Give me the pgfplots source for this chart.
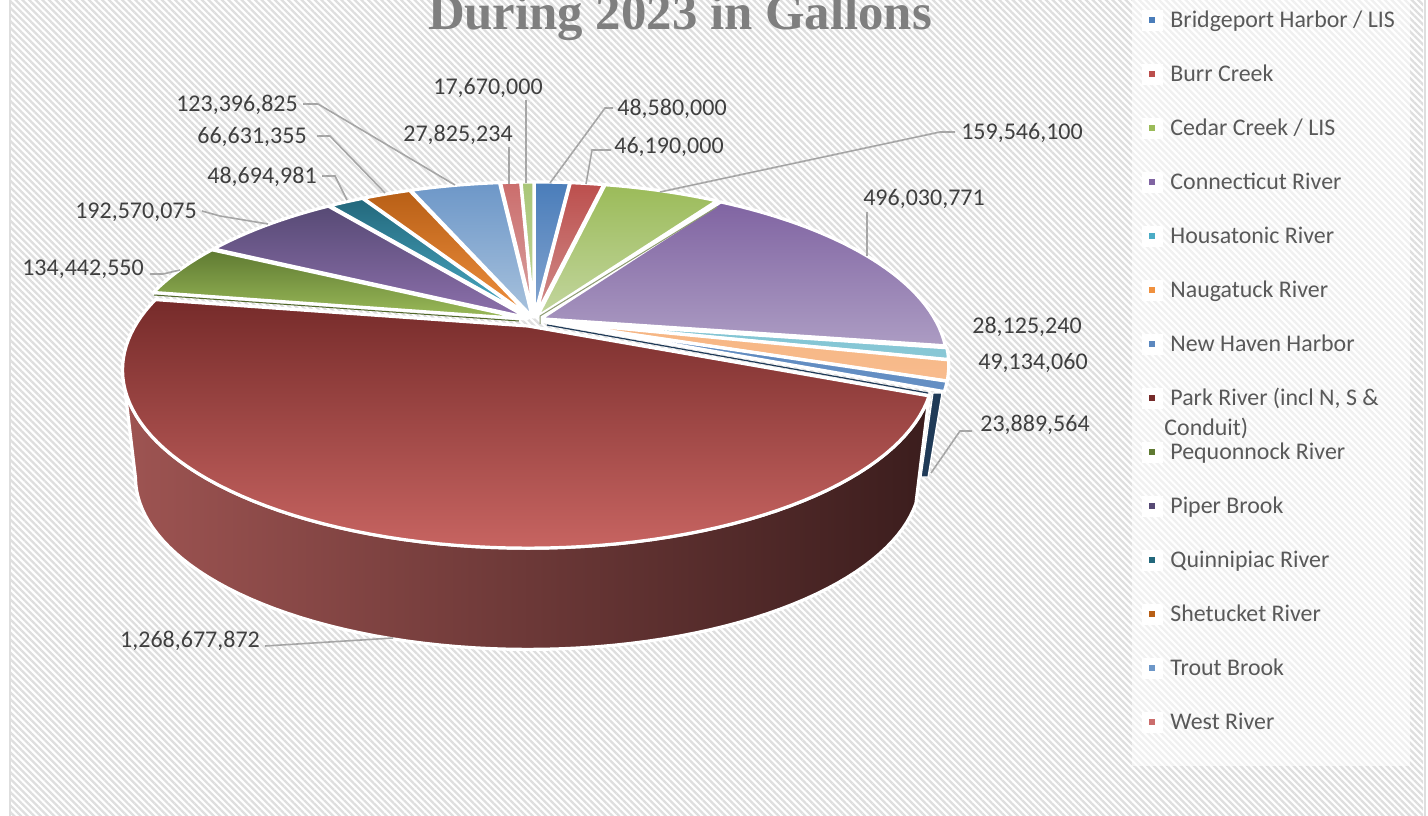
\documentclass[border=0pt]{standalone}
\usepackage{pgfplots}
\pgfplotsset{compat=1.18}
\usepackage{xfp}
\usepackage{fontspec}
\setmainfont{Carlito}
\newfontfamily\titlefont{Liberation Serif}
\usetikzlibrary{patterns.meta}

\definecolor{hatch}{HTML}{DEDEDE}
\definecolor{labeltext}{HTML}{404040}
\definecolor{legendtext}{HTML}{595959}
\definecolor{titletext}{HTML}{7F7F7F}
\definecolor{leader}{HTML}{A6A6A6}
\definecolor{nhwall}{HTML}{1F3A57}
\definecolor{wallL}{HTML}{9E5452}
\definecolor{wallR}{HTML}{3B1D1D}
% Slice shading, darker end (T) and lighter end (B)
\definecolor{bridgeT}{HTML}{4A7DBA}\definecolor{bridgeB}{HTML}{86A6D0}
\definecolor{burrT}{HTML}{BC4F4D}\definecolor{burrB}{HTML}{D18E8C}
\definecolor{cedarT}{HTML}{9BBB59}\definecolor{cedarB}{HTML}{C3D69F}
\definecolor{connT}{HTML}{8064A2}\definecolor{connB}{HTML}{AC9CC3}
\definecolor{housT}{HTML}{7FC4D3}\definecolor{housB}{HTML}{8AC8D6}
\definecolor{naugT}{HTML}{F6B582}\definecolor{naugB}{HTML}{F8BC8E}
\definecolor{nhT}{HTML}{5C88BF}\definecolor{nhB}{HTML}{6690C4}
\definecolor{parkT}{HTML}{762B2A}\definecolor{parkB}{HTML}{C76461}
\definecolor{peqT}{HTML}{5F7A32}\definecolor{peqB}{HTML}{9BBB59}
\definecolor{piperT}{HTML}{574A75}\definecolor{piperB}{HTML}{8D70AC}
\definecolor{quinT}{HTML}{23687C}\definecolor{quinB}{HTML}{4BACC6}
\definecolor{shetT}{HTML}{B85F16}\definecolor{shetB}{HTML}{F0913F}
\definecolor{troutT}{HTML}{6D97C8}\definecolor{troutB}{HTML}{A8C2DD}
\definecolor{westT}{HTML}{CB6D6C}\definecolor{westB}{HTML}{D9A5A4}
\definecolor{lastT}{HTML}{A9C678}\definecolor{lastB}{HTML}{C3D69B}

% Gallons per receiving water; the sum sets the angle of each slice.
\def\TotalGallons{2731404627}
\def\pieK{0.246}

% Appends a projected arc to \pts.
% #1 start angle, #2 end angle (degrees clockwise from the top), #3 radius,
% #4,#5 plane offset of the slice, #6,#7 screen centre, #8,#9 horizontal and vertical scale
\newcount\arcstep
\newcommand\addarc[9]{%
  \edef\nsteps{\fpeval{max(2,ceil(abs((#2)-(#1))/2))}}%
  \arcstep=0
  \loop
    \edef\tv{\fpeval{(#1)+((#2)-(#1))*\the\arcstep/\nsteps}}%
    \edef\uu{\fpeval{(#3)*sind(\tv)+(#4)}}%
    \edef\vv{\fpeval{(#3)*cosd(\tv)+(#5)}}%
    \xdef\pts{\pts (\fpeval{round((#6)+(#8)*\uu/(1+\pieK*\vv),2)},\fpeval{round((#7)-(#9)*\vv/(1+\pieK*\vv),2)})}%
    \advance\arcstep by 1
  \ifnum\arcstep<\numexpr\nsteps+1\relax
  \repeat
}

% Running angle, advanced by every slice
\gdef\cumangle{0}
% #1 gallons, #2 colour stem, #3 explosion, #4,#5 screen centre, #6,#7 scales
\newcommand\slicefull[7]{%
  \edef\aA{\cumangle}%
  \edef\aB{\fpeval{\cumangle+#1/\TotalGallons*360}}%
  \xdef\cumangle{\aB}%
  \edef\aM{\fpeval{(\aA+\aB)/2}}%
  \edef\oU{\fpeval{(#3)*sind(\aM)}}%
  \edef\oV{\fpeval{(#3)*cosd(\aM)}}%
  \edef\rr{\fpeval{1-(#3)}}%
  \gdef\pts{}%
  \addarc{\aM}{\aM}{0}{\oU}{\oV}{#4}{#5}{#6}{#7}%
  \addarc{\aA}{\aB}{\rr}{\oU}{\oV}{#4}{#5}{#6}{#7}%
  \edef\doplot{\noexpand\addplot[draw=white,line width=1.6pt,line join=round,shade,top color=#2T,bottom color=#2B] coordinates {\pts} -- cycle;}%
  \doplot
}
\newcommand\slice[2]{\slicefull{#1}{#2}{0.018}{534}{320}{402}{172}}

\tikzset{
  datalabel/.style={font=\fontsize{12}{14}\selectfont,text=labeltext,inner sep=0pt,anchor=center,yshift=-0.6pt},
  legendlabel/.style={font=\fontsize{11.95}{14}\selectfont,text=legendtext,inner sep=0pt,anchor=base west},
}
\newcommand\leaderline[1]{\addplot[leader,line width=0.8pt] coordinates {#1};}
\newcommand\legendrow[3]{% y of baseline, colour, text
  \addplot[only marks,color=white,mark=square*,mark size=5pt] coordinates {(1152,#1-7)};
  \addplot[only marks,color=#2,mark=square*,mark size=1.1pt] coordinates {(1152,#1-7)};
  \node[legendlabel] at (axis cs:1170,#1) {#3};
}

\begin{document}
\begin{tikzpicture}
\useasboundingbox (0,0) rectangle (714pt,407.5pt);
\clip (0,0) rectangle (714pt,407.5pt);
\begin{axis}[
  at={(0,0)},anchor=south west,
  width=714pt,height=407.5pt,scale only axis,
  xmin=0,xmax=1428,ymin=0,ymax=815,y dir=reverse,
  hide axis,clip=false,
]
% Chart area: hatched ground between two grey bands
\addplot[draw=none,pattern={Lines[angle=-45,distance=2.35pt,line width=1.15pt]},pattern color=hatch] coordinates {(11,-5) (1423,-5) (1423,820) (11,820)} -- cycle;
\addplot[hatch,line width=1pt] coordinates {(10,-5) (10,820)};
\addplot[hatch,line width=1pt] coordinates {(1424.5,-5) (1424.5,820)};

% Legend ground
\addplot[draw=none,fill=white,fill opacity=0.55] coordinates {(1132,-5) (1410,-5) (1410,766) (1132,766)} -- cycle;

% Side wall of the Park River slice
\gdef\pts{}
\addarc{112.2}{256}{1.0}{0}{0}{528}{326}{393}{167.5}
\addarc{256}{112.2}{0.97}{0}{0}{528}{436}{393}{167.5}
\edef\doplot{\noexpand\addplot[draw=white,line width=1.6pt,line join=round,shade,left color=wallL,right color=wallR] coordinates {\pts} -- cycle;}
\doplot

% Side wall of the New Haven Harbor slice
\addplot[draw=white,line width=0.6pt,fill=nhwall] coordinates {(933,393) (942,393) (928,477) (921,477)} -- cycle;

% Slices, clockwise from the top
\slice{48580000}{bridge}
\slice{46190000}{burr}
\slice{159546100}{cedar}
\slice{496030771}{conn}
\slice{28125240}{hous}
\slice{49134060}{naug}
\slice{23889564}{nh}
\slicefull{1268677872}{park}{0}{528}{326}{393}{167.5}
\slice{134442550}{peq}
\slice{192570075}{piper}
\slice{48694981}{quin}
\slice{66631355}{shet}
\slice{123396825}{trout}
\slice{27825234}{west}
\slice{17670000}{last}

% Slice flanks that show through the gaps
\addplot[color=cedarT!60!black!70,line width=0.5pt] coordinates {(540,324) (540,316) (717,207)};
\addplot[color=peqT!85!black,line width=0.5pt] coordinates {(154,295) (519,321)};
\addplot[color=nhwall,line width=0.6pt] coordinates {(547,325) (928,393)};

% Leader lines
\leaderline{(550,183) (605,108) (613,108)}
\leaderline{(586,184) (592,150) (611,150)}
\leaderline{(526,183) (526,100)}
\leaderline{(509,184) (509,147)}
\leaderline{(303,104) (318,104) (455,185)}
\leaderline{(317,136) (330,136) (385,193)}
\leaderline{(322,176) (335,176) (347,200)}
\leaderline{(202,211) (220,216) (268,224)}
\leaderline{(150,274) (163,274) (180,270)}
\leaderline{(265,646) (393,638)}
\leaderline{(972,431) (960,431) (931,473)}
\leaderline{(867,212) (867,256)}
\leaderline{(955,132) (940,132) (660,192)}

% Value labels
\node[datalabel] at (axis cs:672,108) {48,580,000};
\node[datalabel] at (axis cs:669,146) {46,190,000};
\node[datalabel] at (axis cs:488,87) {17,670,000};
\node[datalabel] at (axis cs:458,134) {27,825,234};
\node[datalabel] at (axis cs:237,104) {123,396,825};
\node[datalabel] at (axis cs:252,136) {66,631,355};
\node[datalabel] at (axis cs:262,176) {48,694,981};
\node[datalabel] at (axis cs:136,211) {192,570,075};
\node[datalabel] at (axis cs:83,268) {134,442,550};
\node[datalabel] at (axis cs:190,640) {1,268,677,872};
\node[datalabel] at (axis cs:1035,424) {23,889,564};
\node[datalabel] at (axis cs:1033,362) {49,134,060};
\node[datalabel] at (axis cs:1027,326) {28,125,240};
\node[datalabel] at (axis cs:924,198) {496,030,771};
\node[datalabel] at (axis cs:1022,132) {159,546,100};

% Title, running off the top edge
\node[font=\titlefont\bfseries\fontsize{25.4}{30}\selectfont,text=titletext,inner sep=0pt,anchor=base] at (axis cs:680,29) {During 2023 in Gallons};

% Legend
\legendrow{27}{bridgeT}{Bridgeport Harbor / LIS}
\legendrow{81}{burrT}{Burr Creek}
\legendrow{135}{cedarT}{Cedar Creek / LIS}
\legendrow{189}{connT}{Connecticut River}
\legendrow{243}{quinB}{Housatonic River}
\legendrow{297}{shetB}{Naugatuck River}
\legendrow{351}{nhT}{New Haven Harbor}
\legendrow{405}{parkT}{Park River (incl N, S \&}
\node[legendlabel] at (axis cs:1164,435) {Conduit)};
\legendrow{459}{peqT}{Pequonnock River}
\legendrow{513}{piperT}{Piper Brook}
\legendrow{567}{quinT}{Quinnipiac River}
\legendrow{621}{shetT}{Shetucket River}
\legendrow{675}{troutT}{Trout Brook}
\legendrow{729}{westT}{West River}
\end{axis}
\end{tikzpicture}
\end{document}
